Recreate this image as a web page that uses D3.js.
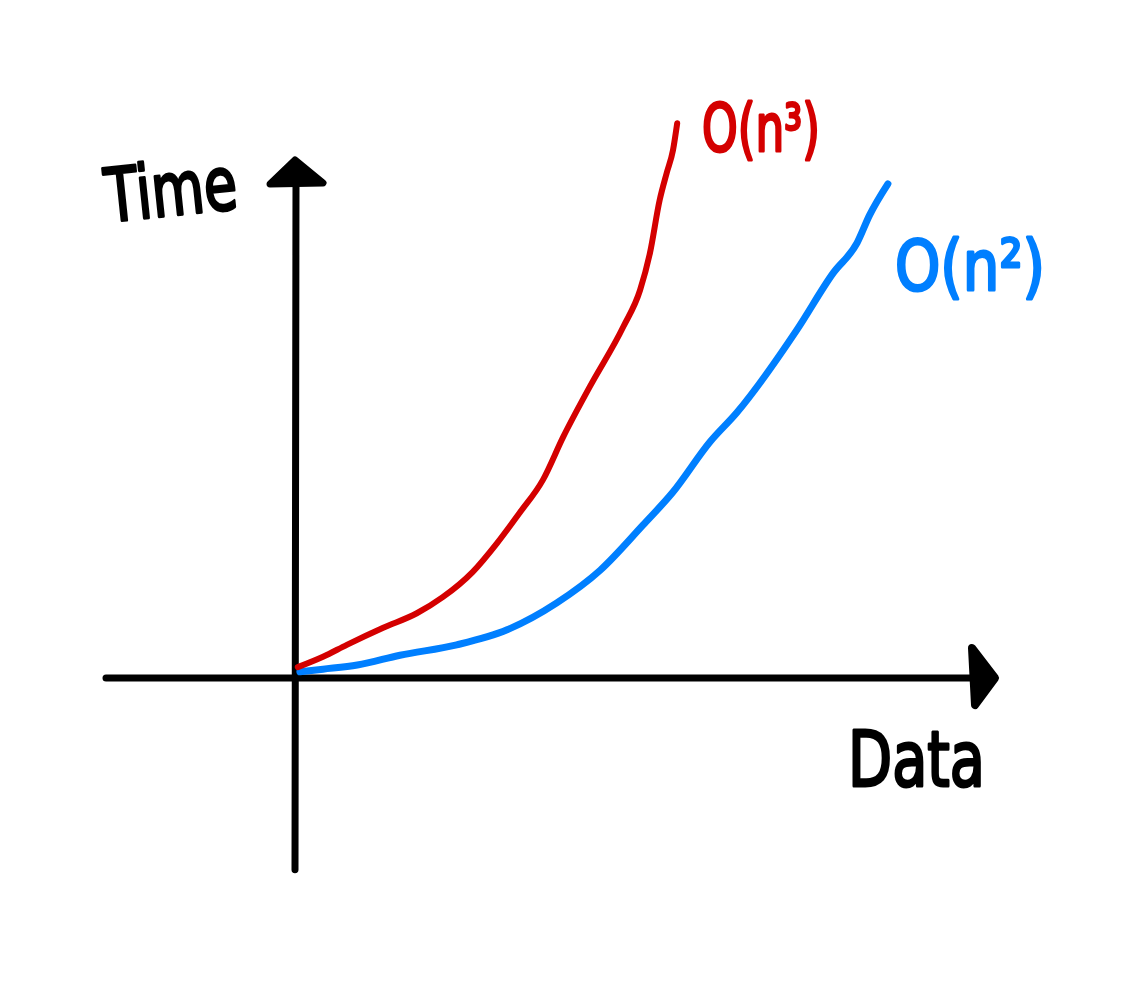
<!DOCTYPE html>
<html>
<head>
<meta charset="utf-8">
<script src="https://cdn.jsdelivr.net/npm/d3@7"></script>
<style>
  body { margin: 0; background: #fff; }
  text { font-family: "DejaVu Sans", sans-serif; }
</style>
</head>
<body>
<div id="sketch_area"></div>
<script>
// data (x = data, y = time, arbitrary units)
var cubicX = [0.4, 4.0, 7.4, 12.6, 17.4, 21.1, 25.4, 28.9, 32.1, 35.4, 38.3, 42.1, 46.9, 49.3, 50.7, 52.1, 53.1, 54.0, 54.6]
var cubicY = [2.1, 4.1, 6.4, 9.7, 12.5, 15.6, 20.5, 26.1, 31.9, 38.2, 46.5, 56.2, 67.8, 74.9, 82.0, 92.3, 97.5, 101.9, 107.1]

var squareX = [0.7, 4.0, 8.9, 15.0, 23.1, 30.3, 37.4, 43.6, 49.7, 54.0, 59.3, 63.1, 71.7, 76.9, 80.3, 82.1, 84.7]
var squareY = [1.2, 1.7, 2.5, 4.4, 6.4, 9.3, 14.5, 20.8, 29.5, 35.9, 45.6, 51.2, 67.2, 78.2, 84.0, 89.4, 95.4]

var seriesNames = ["O(n³)", "O(n²)"]
var axisNames = ["Time", "Data"]

// where the drawn axes start and stop, in data units
var xAxisEnds = [-27, 100]
var yAxisEnds = [-37, 100]

var width = 1139, height = 1000

var svG = d3.select("#sketch_area")
  .append("svg")
    .attr("width", width)
    .attr("height", height)

// origin of the sketch sits at (295, 678)
var x = d3.scaleLinear()
    .domain([0, 100])
    .range([295, 995])

var y = d3.scaleLinear()
    .domain([0, 100])
    .range([678, 160])

var toPoints = function(xs, ys) {
  return xs.map(function(v, i) { return {x: v, y: ys[i]} })
}

var line = d3.line()
    .x(function(d) { return x(d.x) })
    .y(function(d) { return y(d.y) })
    .curve(d3.curveMonotoneX)

// axes
svG.append("line")
    .attr("x1", x(xAxisEnds[0])).attr("y1", y(0))
    .attr("x2", x(xAxisEnds[1]) - 22).attr("y2", y(0))
    .attr("stroke", "#000").attr("stroke-width", 7).attr("stroke-linecap", "round")

svG.append("line")
    .attr("x1", x(0)).attr("y1", y(yAxisEnds[0]))
    .attr("x2", x(0) + 1).attr("y2", y(yAxisEnds[1]) + 20)
    .attr("stroke", "#000").attr("stroke-width", 7).attr("stroke-linecap", "round")

// arrow heads
var xTip = x(xAxisEnds[1]), yTip = y(yAxisEnds[1])
svG.append("path")
    .attr("d", "M" + (xTip - 23) + "," + (y(0) - 30) +
               " L" + xTip + "," + y(0) +
               " L" + (xTip - 20) + "," + (y(0) + 27) + " Z")
    .attr("fill", "#000").attr("stroke", "#000")
    .attr("stroke-width", 8).attr("stroke-linejoin", "round")

svG.append("path")
    .attr("d", "M" + (x(0) - 25) + "," + (yTip + 24) +
               " L" + x(0) + "," + yTip +
               " L" + (x(0) + 28) + "," + (yTip + 23) + " Z")
    .attr("fill", "#000").attr("stroke", "#000")
    .attr("stroke-width", 7).attr("stroke-linejoin", "round")

// curves
svG.append("path")
    .datum(toPoints(squareX, squareY))
    .attr("d", line)
    .attr("fill", "none")
    .attr("stroke", "#007fff")
    .attr("stroke-width", 7)
    .attr("stroke-linecap", "round")

svG.append("path")
    .datum(toPoints(cubicX, cubicY))
    .attr("d", line)
    .attr("fill", "none")
    .attr("stroke", "#d40000")
    .attr("stroke-width", 6)
    .attr("stroke-linecap", "round")

// labels
var addLabel = function(txt, px, py, size, len, color, rot) {
  svG.append("text")
    .attr("x", px)
    .attr("y", py)
    .attr("transform", "rotate(" + rot + "," + px + "," + py + ")")
    .attr("font-size", size)
    .attr("textLength", len)
    .attr("lengthAdjust", "spacingAndGlyphs")
    .attr("fill", color)
    .attr("stroke", color)
    .attr("stroke-width", 3)
    .attr("stroke-linejoin", "round")
    .text(txt)
}

addLabel(axisNames[0], 108, 222, 74, 132, "#000", -6)
addLabel(axisNames[1], 848, 786, 76, 137, "#000", 0)
addLabel(seriesNames[0], 702, 151, 66, 118, "#d40000", 0)
addLabel(seriesNames[1], 895, 290, 70, 150, "#007fff", 0)
</script>
</body>
</html>
